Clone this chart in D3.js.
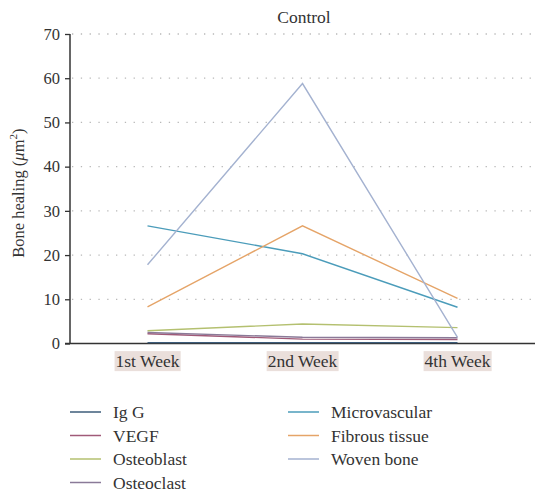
<!DOCTYPE html>
<html><head><meta charset="utf-8">
<script src="https://cdn.jsdelivr.net/npm/d3@7"></script>
<style>body{margin:0;background:#fff;}svg{display:block;} text{font-family:"Liberation Serif","DejaVu Serif",serif;}</style>
</head><body><svg id="c" width="535" height="493"></svg>
<script>
const categories = ["1st Week", "2nd Week", "4th Week"];
const yTicks = [0, 10, 20, 30, 40, 50, 60, 70];
const seriesNames = ["Ig G", "VEGF", "Osteoblast", "Osteoclast", "Microvascular", "Fibrous tissue", "Woven bone"];
const igG = [0.2, 0.2, 0.2];
const vegf = [2.2, 1.0, 0.9];
const osteoblast = [2.9, 4.4, 3.6];
const osteoclast = [2.5, 1.4, 1.3];
const microvascular = [26.6, 20.3, 8.2];
const fibrous = [8.3, 26.6, 10.2];
const woven = [17.8, 58.8, 1.4];
const seriesValues = [igG, vegf, osteoblast, osteoclast, microvascular, fibrous, woven];
const colors = ["#3d5c7a", "#a05a78", "#b4c070", "#8a7a98", "#4b9cba", "#e5a468", "#a4b2d0"];

const svg = d3.select("#c");
const font = "Liberation Serif, DejaVu Serif, serif";
const x = d3.scaleBand().domain(categories).range([70, 535]);
const y = d3.scaleLinear().domain([0, 70]).range([343.5, 34]);

// grid
svg.append("g").selectAll("line").data(yTicks.filter(d => d > 0)).join("line")
  .attr("x1", 72).attr("x2", 535).attr("y1", d => y(d)).attr("y2", d => y(d))
  .attr("stroke", "#b8b8b8").attr("stroke-width", 1.3).attr("stroke-dasharray", "1.3,7.5");

// y axis
const ya = svg.append("g").attr("transform", "translate(70,0)")
  .call(d3.axisLeft(y).tickValues(yTicks).tickSize(5).tickPadding(5));
ya.select(".domain").attr("stroke", "#333").attr("stroke-width", 1.5).attr("d", `M0,${y(70)}V${y(0)}`);
ya.selectAll(".tick line").attr("stroke", "#333").attr("stroke-width", 1.3);
ya.selectAll("text").attr("font-family", font).attr("font-size", 16.5).attr("fill", "#333");

// x axis line
svg.append("line").attr("x1", 65).attr("x2", 535).attr("y1", y(0)).attr("y2", y(0))
  .attr("stroke", "#333").attr("stroke-width", 1.5);

// x labels with background
const xl = svg.append("g").selectAll("g").data(categories).join("g")
  .attr("transform", d => `translate(${x(d) + x.bandwidth() / 2},${y(0) + 17.5})`);
xl.append("text").attr("text-anchor", "middle").attr("dy", "0.35em")
  .attr("font-family", font).attr("font-size", 17.5).attr("fill", "#333").text(d => d);
xl.each(function () {
  const g = d3.select(this);
  const b = g.select("text").node().getBBox();
  g.insert("rect", "text").attr("x", b.x - 1).attr("y", b.y).attr("width", b.width + 2).attr("height", b.height)
    .attr("fill", "#eadfdb");
});

// lines
const line = d3.line().x((d, i) => x(categories[i]) + x.bandwidth() / 2).y(d => y(d));
svg.append("g").selectAll("path").data(seriesValues).join("path")
  .attr("d", d => line(d)).attr("fill", "none")
  .attr("stroke", (d, i) => colors[i]).attr("stroke-width", 1.4);

// title
svg.append("text").attr("x", 304).attr("y", 23).attr("text-anchor", "middle")
  .attr("font-family", font).attr("font-size", 17.5).attr("fill", "#333").text("Control");

// y label
const yl = svg.append("text").attr("transform", `translate(24,${y(34)}) rotate(-90)`).attr("text-anchor", "middle")
  .attr("font-family", font).attr("font-size", 16.5).attr("fill", "#333");
yl.append("tspan").text("Bone healing (");
yl.append("tspan").attr("font-style", "italic").text("μ");
yl.append("tspan").text("m");
yl.append("tspan").attr("font-size", 11).attr("dy", -7).text("2");
yl.append("tspan").attr("dy", 7).text(")");

// legend
const lg = svg.append("g").selectAll("g").data(seriesNames).join("g")
  .attr("transform", (d, i) => i < 4 ? `translate(70,${412 + i * 23.5})` : `translate(288,${412 + (i - 4) * 23.5})`);
lg.append("line").attr("x1", 0).attr("x2", 31).attr("y1", 0).attr("y2", 0)
  .attr("stroke", (d, i) => colors[i]).attr("stroke-width", 1.5);
lg.append("text").attr("x", 43).attr("dy", "0.35em").attr("font-family", font).attr("font-size", 17.5)
  .attr("fill", "#333").text(d => d);
</script></body></html>
